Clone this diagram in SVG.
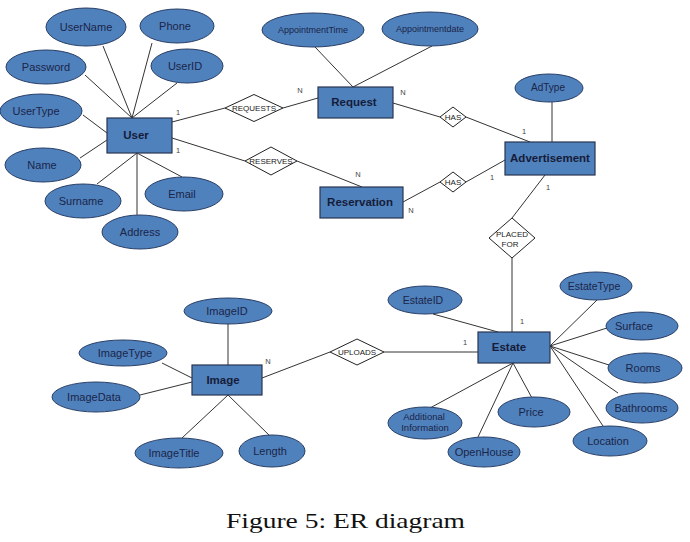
<svg xmlns="http://www.w3.org/2000/svg" width="690" height="542" viewBox="0 0 690 542">
<style>
.attr{fill:#4f81bd;stroke:#2a3f66;stroke-width:1}
.ent{fill:#4f81bd;stroke:#28354f;stroke-width:1.2}
.rel{fill:#ffffff;stroke:#222;stroke-width:1}
.at{font-family:"Liberation Sans",Arial,sans-serif;font-size:11px;fill:#1b2548;text-anchor:middle}
.et{font-family:"Liberation Sans",Arial,sans-serif;font-size:11.5px;font-weight:bold;fill:#161c38;text-anchor:middle}
.rt{font-family:"Liberation Sans",Arial,sans-serif;font-size:8px;fill:#222;text-anchor:middle}
.ct{font-family:"Liberation Sans",Arial,sans-serif;font-size:7.5px;fill:#444;text-anchor:middle}
.conn line{stroke:#333;stroke-width:1}
</style>
<rect width="690" height="542" fill="#ffffff"/>
<g id="connectors" class="conn">
<line x1="132" y1="118" x2="103" y2="46"/>
<line x1="132" y1="118" x2="85" y2="75"/>
<line x1="132" y1="118" x2="152" y2="43"/>
<line x1="132" y1="118" x2="177" y2="83"/>
<line x1="83" y1="115" x2="107" y2="133"/>
<line x1="80" y1="158" x2="107" y2="140"/>
<line x1="137" y1="153" x2="97" y2="184"/>
<line x1="137" y1="153" x2="137" y2="215"/>
<line x1="137" y1="153" x2="182" y2="177"/>
<line x1="172" y1="122" x2="225" y2="108"/>
<line x1="283" y1="108" x2="318" y2="98"/>
<line x1="172" y1="138" x2="245" y2="161"/>
<line x1="297" y1="161" x2="362" y2="187"/>
<line x1="353" y1="87" x2="315" y2="47"/>
<line x1="353" y1="87" x2="432" y2="46"/>
<line x1="393" y1="103" x2="440" y2="117"/>
<line x1="466" y1="117" x2="530" y2="142"/>
<line x1="403" y1="202" x2="440" y2="182"/>
<line x1="466" y1="182" x2="505" y2="160"/>
<line x1="552" y1="102" x2="552" y2="142"/>
<line x1="545" y1="175" x2="512" y2="218"/>
<line x1="512" y1="258" x2="512" y2="332"/>
<line x1="498" y1="332" x2="433" y2="314"/>
<line x1="550" y1="346" x2="597" y2="300"/>
<line x1="550" y1="346" x2="607" y2="328"/>
<line x1="550" y1="346" x2="609" y2="365"/>
<line x1="550" y1="346" x2="618" y2="393"/>
<line x1="550" y1="346" x2="603" y2="426"/>
<line x1="513" y1="363" x2="430" y2="408"/>
<line x1="513" y1="363" x2="478" y2="437"/>
<line x1="513" y1="363" x2="532" y2="398"/>
<line x1="384" y1="352" x2="478" y2="352"/>
<line x1="262" y1="378" x2="330" y2="352"/>
<line x1="228" y1="324" x2="228" y2="365"/>
<line x1="162" y1="363" x2="192" y2="378"/>
<line x1="140" y1="395" x2="192" y2="382"/>
<line x1="228" y1="395" x2="182" y2="438"/>
<line x1="228" y1="395" x2="270" y2="436"/>
</g>
<g id="cardinalities">
<text class="ct" x="178" y="115">1</text>
<text class="ct" x="178" y="153">1</text>
<text class="ct" x="300" y="93">N</text>
<text class="ct" x="403" y="95">N</text>
<text class="ct" x="358" y="177">N</text>
<text class="ct" x="411" y="213">N</text>
<text class="ct" x="524" y="134">1</text>
<text class="ct" x="492" y="180">1</text>
<text class="ct" x="548" y="190">1</text>
<text class="ct" x="522" y="324">1</text>
<text class="ct" x="465" y="345">1</text>
<text class="ct" x="268" y="364">N</text>
</g>
<g id="attr-username"><ellipse class="attr" cx="86" cy="27" rx="40" ry="19"/><text class="at" x="86" y="31">UserName</text></g>
<g id="attr-phone"><ellipse class="attr" cx="177" cy="26" rx="37" ry="17"/><text class="at" x="175" y="30">Phone</text></g>
<g id="attr-password"><ellipse class="attr" cx="46" cy="67" rx="40" ry="17"/><text class="at" x="46" y="71">Password</text></g>
<g id="attr-userid"><ellipse class="attr" cx="187" cy="66" rx="36" ry="17"/><text class="at" x="185" y="70">UserID</text></g>
<g id="attr-usertype"><ellipse class="attr" cx="41" cy="111" rx="41" ry="17"/><text class="at" x="36" y="115">UserType</text></g>
<g id="attr-name"><ellipse class="attr" cx="43" cy="165" rx="38" ry="17"/><text class="at" x="42" y="169">Name</text></g>
<g id="attr-surname"><ellipse class="attr" cx="83" cy="201" rx="38" ry="17"/><text class="at" x="81" y="205">Surname</text></g>
<g id="attr-email"><ellipse class="attr" cx="184" cy="194" rx="39" ry="17"/><text class="at" x="182" y="198">Email</text></g>
<g id="attr-address"><ellipse class="attr" cx="140" cy="232" rx="38" ry="17"/><text class="at" x="140" y="236">Address</text></g>
<g id="attr-appointmenttime"><ellipse class="attr" cx="313" cy="30" rx="51" ry="17"/><text class="at" style="font-size:9px" x="313" y="33">AppointmentTime</text></g>
<g id="attr-appointmentdate"><ellipse class="attr" cx="430" cy="29" rx="48" ry="17"/><text class="at" style="font-size:9px" x="430" y="32">Appointmentdate</text></g>
<g id="attr-adtype"><ellipse class="attr" cx="549" cy="88" rx="34" ry="14"/><text class="at" style="font-size:10px" x="548" y="91">AdType</text></g>
<g id="attr-estateid"><ellipse class="attr" cx="425" cy="300" rx="37" ry="14"/><text class="at" style="font-size:10.5px" x="423" y="304">EstateID</text></g>
<g id="attr-estatetype"><ellipse class="attr" cx="596" cy="286" rx="36" ry="14"/><text class="at" style="font-size:10.5px" x="594" y="290">EstateType</text></g>
<g id="attr-surface"><ellipse class="attr" cx="642" cy="326" rx="36" ry="14"/><text class="at" x="634" y="330">Surface</text></g>
<g id="attr-rooms"><ellipse class="attr" cx="645" cy="368" rx="37" ry="15"/><text class="at" x="643" y="372">Rooms</text></g>
<g id="attr-bathrooms"><ellipse class="attr" cx="642" cy="408" rx="36" ry="15"/><text class="at" x="641" y="412">Bathrooms</text></g>
<g id="attr-location"><ellipse class="attr" cx="610" cy="441" rx="37" ry="15"/><text class="at" x="608" y="445">Location</text></g>
<g id="attr-price"><ellipse class="attr" cx="534" cy="412" rx="36" ry="15"/><text class="at" x="531" y="416">Price</text></g>
<g id="attr-openhouse"><ellipse class="attr" cx="484" cy="452" rx="36" ry="15"/><text class="at" x="484" y="456">OpenHouse</text></g>
<g id="attr-additionalinfo"><ellipse class="attr" cx="425" cy="423" rx="37" ry="16"/><text class="at" style="font-size:9.5px" x="424" y="420">Additional</text><text class="at" style="font-size:9.5px" x="425" y="431">Information</text></g>
<g id="attr-imageid"><ellipse class="attr" cx="228" cy="311" rx="44" ry="13"/><text class="at" x="227" y="315">ImageID</text></g>
<g id="attr-imagetype"><ellipse class="attr" cx="123" cy="353" rx="44" ry="13"/><text class="at" x="125" y="357">ImageType</text></g>
<g id="attr-imagedata"><ellipse class="attr" cx="96" cy="397" rx="44" ry="15"/><text class="at" x="94" y="401">ImageData</text></g>
<g id="attr-imagetitle"><ellipse class="attr" cx="179" cy="453" rx="44" ry="15"/><text class="at" x="174" y="457">ImageTitle</text></g>
<g id="attr-length"><ellipse class="attr" cx="272" cy="451" rx="33" ry="16"/><text class="at" x="270" y="455">Length</text></g>
<g id="rel-requests"><polygon class="rel" points="225,108 254,94.5 283,108 254,121.5"/><text class="rt" x="254" y="111">REQUESTS</text></g>
<g id="rel-reserves"><polygon class="rel" points="245,161 271,147 297,161 271,175"/><text class="rt" x="271" y="164">RESERVES</text></g>
<g id="rel-has1"><polygon class="rel" points="440,117 453,107 466,117 453,127"/><text class="rt" x="453" y="120">HAS</text></g>
<g id="rel-has2"><polygon class="rel" points="440,182 453,172 466,182 453,192"/><text class="rt" x="453" y="185">HAS</text></g>
<g id="rel-placedfor"><polygon class="rel" points="489,238 512,218 535,238 512,258"/><text class="rt" x="512" y="237">PLACED</text><text class="rt" x="510" y="247">FOR</text></g>
<g id="rel-uploads"><polygon class="rel" points="330,352 357,339 384,352 357,365"/><text class="rt" x="357" y="355">UPLOADS</text></g>
<g id="ent-user"><rect class="ent" x="107" y="118" width="65" height="35"/><text class="et" x="136" y="139">User</text></g>
<g id="ent-request"><rect class="ent" x="318" y="87" width="75" height="31"/><text class="et" x="354" y="106">Request</text></g>
<g id="ent-reservation"><rect class="ent" x="320" y="187" width="83" height="31"/><text class="et" x="360" y="206">Reservation</text></g>
<g id="ent-advertisement"><rect class="ent" x="505" y="142" width="90" height="33"/><text class="et" x="550" y="162">Advertisement</text></g>
<g id="ent-estate"><rect class="ent" x="478" y="332" width="72" height="31"/><text class="et" x="509" y="351">Estate</text></g>
<g id="ent-image"><rect class="ent" x="192" y="365" width="70" height="30"/><text class="et" x="223" y="384">Image</text></g>
<text x="226" y="528" font-family="'Liberation Serif','Times New Roman',serif" font-size="21" fill="#111" textLength="239" lengthAdjust="spacingAndGlyphs">Figure 5: ER diagram</text>
</svg>
